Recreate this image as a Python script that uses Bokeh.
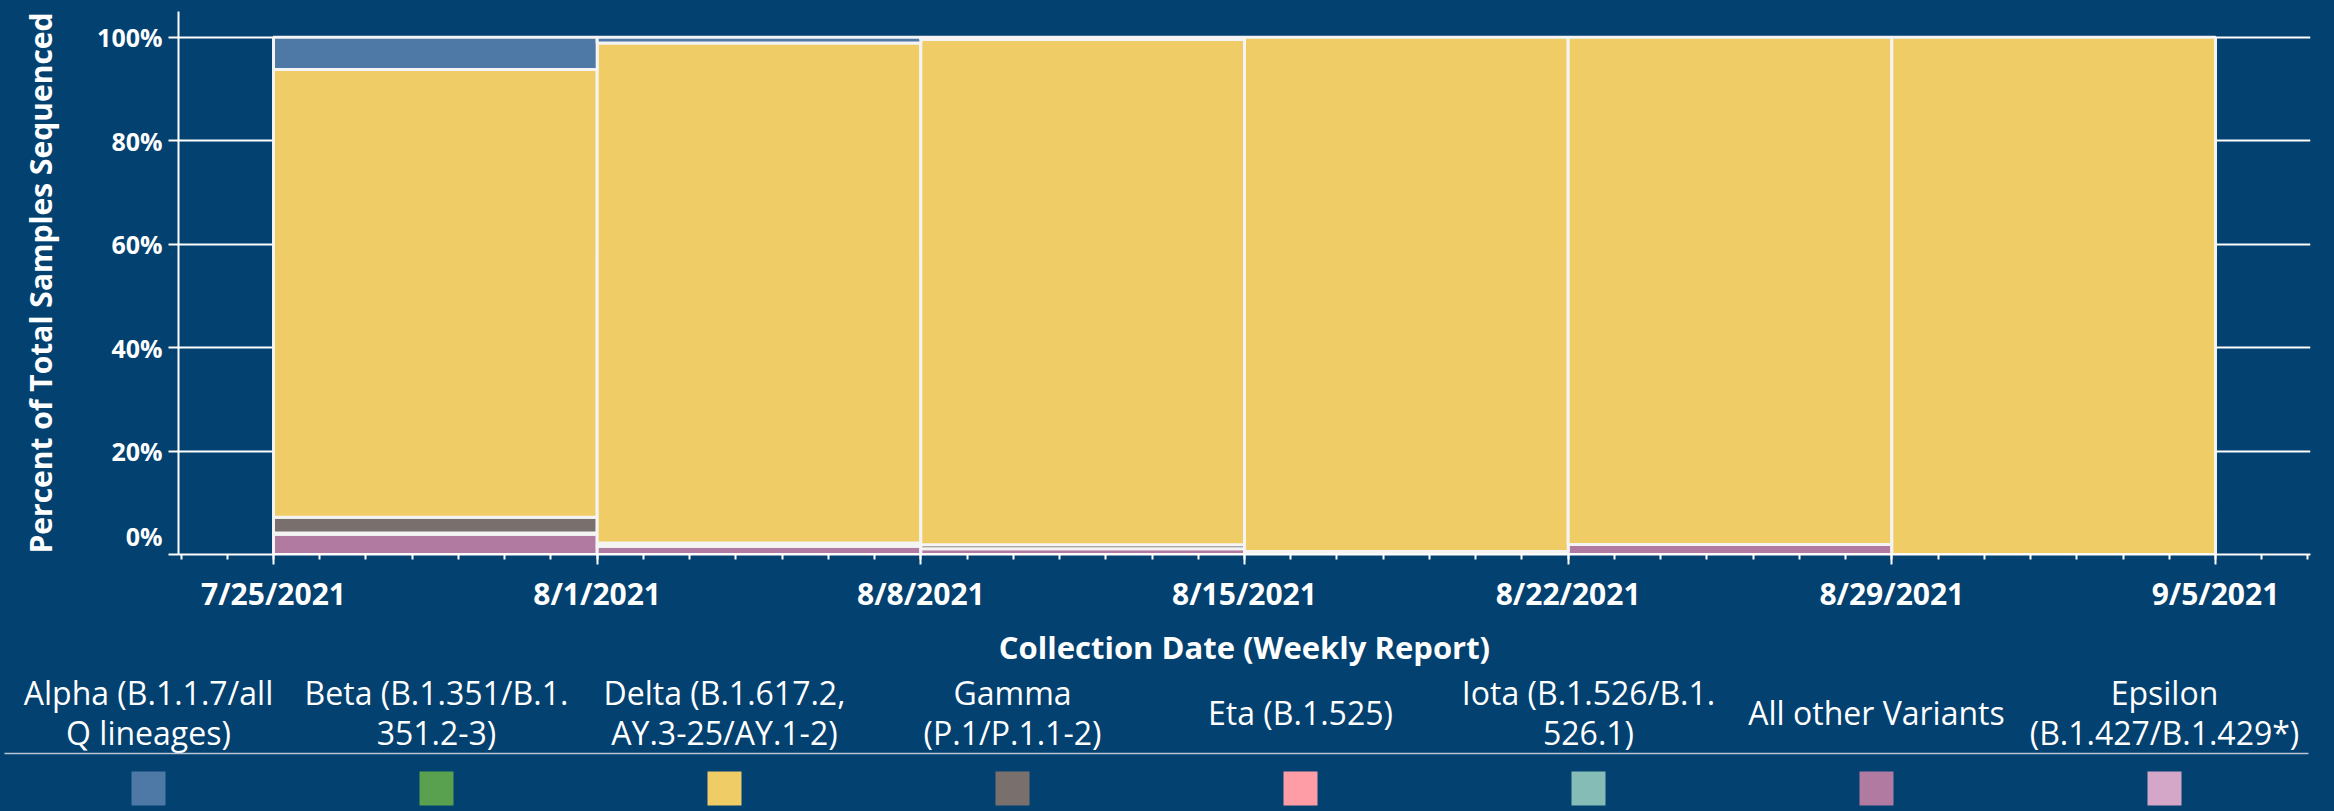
import pandas as pd
from jinja2 import Template
from bokeh.plotting import figure
from bokeh.models import ColumnDataSource, Range1d, FixedTicker, CustomJSTickFormatter
from bokeh.core.properties import value
from bokeh.embed import file_html
from bokeh.resources import INLINE

# ---------------- data ----------------
week_starts = ["2021-07-25", "2021-08-01", "2021-08-08", "2021-08-15", "2021-08-22", "2021-08-29"]

variants = ["Alpha (B.1.1.7/all Q lineages)", "Beta (B.1.351/B.1.351.2-3)",
            "Delta (B.1.617.2, AY.3-25/AY.1-2)", "Gamma (P.1/P.1.1-2)", "Eta (B.1.525)",
            "Iota (B.1.526/B.1.526.1)", "All other Variants", "Epsilon (B.1.427/B.1.429*)"]
legend_labels = ["Alpha (B.1.1.7/all\nQ lineages)", "Beta (B.1.351/B.1.\n351.2-3)",
                 "Delta (B.1.617.2,\nAY.3-25/AY.1-2)", "Gamma\n(P.1/P.1.1-2)", "Eta (B.1.525)",
                 "Iota (B.1.526/B.1.\n526.1)", "All other Variants", "Epsilon\n(B.1.427/B.1.429*)"]
variant_colors = ["#4E79A7", "#59A14F", "#EFCC66", "#79706E", "#FF9DA7", "#86BCB6", "#B07AA1", "#D4A6C8"]

pct_alpha   = [6.2, 1.1, 0.4, 0.0, 0.0, 0.0]
pct_beta    = [0.0, 0.0, 0.0, 0.0, 0.0, 0.0]
pct_delta   = [86.6, 96.7, 97.7, 99.4, 98.05, 100.0]
pct_gamma   = [3.05, 0.3, 0.8, 0.0, 0.0, 0.0]
pct_eta     = [0.25, 0.0, 0.0, 0.0, 0.0, 0.0]
pct_iota    = [0.0, 0.3, 0.0, 0.0, 0.0, 0.0]
pct_other   = [3.9, 1.6, 1.1, 0.6, 1.95, 0.0]
pct_epsilon = [0.0, 0.0, 0.0, 0.0, 0.0, 0.0]

y_ticks = [0, 20, 40, 60, 80, 100]
y_tick_labels = ["0%", "20%", "40%", "60%", "80%", "100%"]

x_title = "Collection Date (Weekly Report)"
y_title = "Percent of Total Samples Sequenced"

# ---------------- style ----------------
BG = "#024170"
EDGE = "#F4F4F4"
FONT = "Open Sans"

series = [pct_alpha, pct_beta, pct_delta, pct_gamma, pct_eta, pct_iota, pct_other, pct_epsilon]
stack_order = [7, 6, 5, 4, 3, 2, 1, 0]  # bottom -> top (reverse of legend order)

weeks = pd.to_datetime(week_starts)
week_len = pd.Timedelta(days=7)

lefts, rights, bottoms, tops, fills, names = [], [], [], [], [], []
base = [0.0] * len(weeks)
for k in stack_order:
    for j in range(len(weeks)):
        v = series[k][j]
        if v > 0:
            lefts.append(weeks[j])
            rights.append(weeks[j] + week_len)
            bottoms.append(base[j])
            tops.append(base[j] + v)
            fills.append(variant_colors[k])
            names.append(variants[k])
            base[j] += v

src = ColumnDataSource(dict(left=lefts, right=rights, bottom=bottoms, top=tops, fill=fills, name=names))

tick_dates = pd.date_range(weeks[0], periods=len(weeks) + 1, freq="7D")
pad = pd.Timedelta(days=2.055)
x_start = (tick_dates[0] - pad).to_pydatetime()
x_end = (tick_dates[-1] + pad).to_pydatetime()
minor_dates = pd.date_range(tick_dates[0] - pd.Timedelta(days=2), tick_dates[-1] + pd.Timedelta(days=2), freq="1D")

def ms(ts):
    return ts.value / 1e6

W = 2334
H_MAIN = 670
H_LEG = 811 - H_MAIN

p = figure(width=W, height=H_MAIN, x_axis_type="datetime",
           x_range=Range1d(x_start, x_end), y_range=Range1d(0, 105),
           output_backend="svg", toolbar_location=None,
           background_fill_color=BG, border_fill_color=BG, outline_line_color=None,
           min_border_left=178, min_border_right=24, min_border_top=11, min_border_bottom=111)

p.quad(left="left", right="right", bottom="bottom", top="top", source=src,
       fill_color="fill", line_color=EDGE, line_width=3)

# grid
p.xgrid.visible = False
p.ygrid.ticker = FixedTicker(ticks=y_ticks)
p.ygrid.grid_line_color = "white"
p.ygrid.grid_line_width = 2
p.ygrid.level = "underlay"

# y axis
ya = p.yaxis[0]
ya.ticker = FixedTicker(ticks=y_ticks)
# the 0% label is lifted above the baseline, as in the original
ya.major_label_overrides = {t: (lab + "\n" if t == 0 else lab) for t, lab in zip(y_ticks, y_tick_labels)}
ya.axis_label = y_title
ya.axis_line_color = "white"
ya.axis_line_width = 2
ya.major_tick_line_color = "white"
ya.major_tick_line_width = 2
ya.major_tick_out = 10
ya.major_tick_in = 0
ya.minor_tick_line_color = None
ya.major_label_standoff = 6
ya.major_label_text_color = "white"
ya.major_label_text_font = FONT
ya.major_label_text_font_style = "bold"
ya.major_label_text_font_size = "25px"
ya.major_label_text_line_height = 1.1
ya.axis_label_text_color = "white"
ya.axis_label_text_font = FONT
ya.axis_label_text_font_style = "bold"
ya.axis_label_text_font_size = "30px"
ya.axis_label_standoff = 33

# x axis
xa = p.xaxis[0]
xa.ticker = FixedTicker(ticks=[ms(t) for t in tick_dates], minor_ticks=[ms(t) for t in minor_dates])
xa.formatter = CustomJSTickFormatter(code="""
const d = new Date(tick);
return (d.getUTCMonth() + 1) + '/' + d.getUTCDate() + '/' + d.getUTCFullYear();
""")
xa.axis_label = x_title
xa.axis_line_color = "white"
xa.axis_line_width = 2
xa.major_tick_line_color = "white"
xa.major_tick_line_width = 2
xa.major_tick_out = 10
xa.major_tick_in = 0
xa.minor_tick_line_color = "white"
xa.minor_tick_line_width = 2
xa.minor_tick_out = 5
xa.minor_tick_in = 0
xa.major_label_standoff = 8
xa.major_label_text_color = "white"
xa.major_label_text_font = FONT
xa.major_label_text_font_style = "bold"
xa.major_label_text_font_size = "30px"
xa.axis_label_text_color = "white"
xa.axis_label_text_font = FONT
xa.axis_label_text_font_style = "bold"
xa.axis_label_text_font_size = "31px"
xa.axis_label_standoff = 9

# ---------------- legend figure ----------------
n = len(variants)
col_px = 288.0
x_lo = 0.5 - 148.0 / col_px
leg = figure(width=W, height=H_LEG, x_range=Range1d(x_lo, x_lo + W / col_px),
             y_range=Range1d(811, H_MAIN), output_backend="svg", toolbar_location=None,
             x_axis_type=None, y_axis_type=None,
             background_fill_color=BG, border_fill_color=BG, outline_line_color=None,
             min_border=0)
leg.xgrid.visible = False
leg.ygrid.visible = False
cols = [i + 0.5 for i in range(n)]
leg.text(x=cols, y=[712] * n, text=legend_labels, text_align="center", text_baseline="middle",
         text_font=value(FONT), text_font_size="32px", text_color="white", text_line_height=0.95)
leg.segment(x0=[0], y0=[753], x1=[n], y1=[753], line_color="#B8C6D4", line_width=1.5)
leg.rect(x=cols, y=[788] * n, width=34, height=34, width_units="screen", height_units="screen",
         fill_color=variant_colors, line_color=None)

tmpl = Template("""{% extends base %}
{% block preamble %}<style>html, body { background-color: #024170; }</style>{% endblock %}
""")

open("out.html", "w").write(file_html([p, leg], INLINE, title="Variants", template=tmpl))
